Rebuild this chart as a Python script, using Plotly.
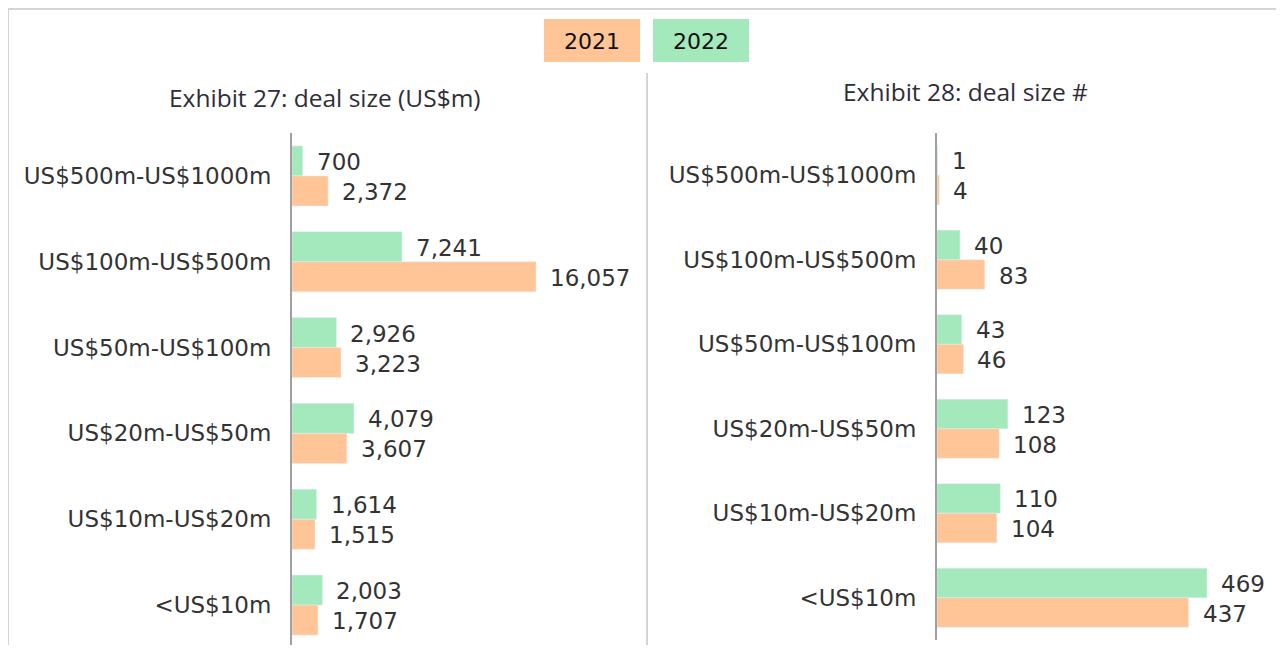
import plotly.graph_objects as go

categories = ["US$500m-US$1000m", "US$100m-US$500m", "US$50m-US$100m",
              "US$20m-US$50m", "US$10m-US$20m", "<US$10m"]
value_2021 = [2372, 16057, 3223, 3607, 1515, 1707]
value_2022 = [700, 7241, 2926, 4079, 1614, 2003]
count_2021 = [4, 83, 46, 108, 104, 437]
count_2022 = [1, 40, 43, 123, 110, 469]
years = ["2021", "2022"]
titles = ["Exhibit 27: deal size (US$m)", "Exhibit 28: deal size #"]

C21 = "#FFC597"
C22 = "#A3E9BC"
TXT = "#333333"
OFF = 8
W, H = 1284 - 2 * OFF, 653 - 2 * OFF


def px_x(p):
    return (p - OFF) / W


def px_y(p):
    return 1 - (p - OFF) / H


fig = go.Figure()

fig.add_trace(go.Bar(y=categories, x=value_2022, orientation="h", marker_color=C22,
                     name="2022", xaxis="x", yaxis="y", showlegend=False, hoverinfo="x"))
fig.add_trace(go.Bar(y=categories, x=value_2021, orientation="h", marker_color=C21,
                     name="2021", xaxis="x", yaxis="y", showlegend=False, hoverinfo="x"))
fig.add_trace(go.Bar(y=categories, x=count_2022, orientation="h", marker_color=C22,
                     name="2022", xaxis="x2", yaxis="y2", showlegend=False, hoverinfo="x"))
fig.add_trace(go.Bar(y=categories, x=count_2021, orientation="h", marker_color=C21,
                     name="2021", xaxis="x2", yaxis="y2", showlegend=False, hoverinfo="x"))

annotations = []
font_val = dict(family="DejaVu Sans, Verdana, sans-serif", size=23, color=TXT)
for xr, yr, v22, v21 in [("x", "y", value_2022, value_2021), ("x2", "y2", count_2022, count_2021)]:
    for cat, a, b in zip(categories, v22, v21):
        annotations.append(dict(x=a, y=cat, xref=xr, yref=yr, text=f"{a:,}", showarrow=False,
                                xanchor="left", yanchor="middle", xshift=12, yshift=14, font=font_val))
        annotations.append(dict(x=b, y=cat, xref=xr, yref=yr, text=f"{b:,}", showarrow=False,
                                xanchor="left", yanchor="middle", xshift=12, yshift=-16, font=font_val))

font_title = dict(family="Open Sans, Noto Sans, sans-serif", size=24.5, color="#2E2E38")
annotations.append(dict(x=px_x(325), y=px_y(97), xref="paper", yref="paper", text=titles[0],
                        showarrow=False, xanchor="center", yanchor="middle", font=font_title))
annotations.append(dict(x=px_x(965), y=px_y(92), xref="paper", yref="paper", text=titles[1],
                        showarrow=False, xanchor="center", yanchor="middle", font=font_title))

# legend boxes
shapes = []
legend_boxes = [(544, 640, C21, years[0]), (653, 749, C22, years[1])]
for x0, x1, col, label in legend_boxes:
    shapes.append(dict(type="rect", xref="paper", yref="paper", x0=px_x(x0), x1=px_x(x1),
                       y0=px_y(62), y1=px_y(19), fillcolor=col, line=dict(width=0), layer="below"))
    annotations.append(dict(x=px_x((x0 + x1) / 2), y=px_y(41), xref="paper", yref="paper", text=label,
                            showarrow=False, xanchor="center", yanchor="middle",
                            font=dict(family="DejaVu Sans, Verdana, sans-serif", size=22, color="#111111")))

# frame lines
FRAME = "#D3D3D8"
shapes.append(dict(type="line", xref="paper", yref="paper", x0=px_x(7), x1=1, y0=px_y(9), y1=px_y(9),
                   line=dict(color=FRAME, width=2)))
shapes.append(dict(type="line", xref="paper", yref="paper", x0=px_x(8), x1=px_x(8), y0=px_y(9), y1=0,
                   line=dict(color=FRAME, width=2)))
shapes.append(dict(type="line", xref="paper", yref="paper", x0=px_x(647), x1=px_x(647), y0=px_y(73), y1=0,
                   line=dict(color=FRAME, width=2)))

tick_font = dict(family="DejaVu Sans, Verdana, sans-serif", size=23, color=TXT)
AX = "#A0A0A0"

left_scale = 244 / 16057
right_scale = 270 / 469

# left panel: categories spaced 85.83px, axis from 133 down to the bottom of the figure
left_step = (648 - 133) / 6
left_bottom = OFF + H
left_span = (left_bottom - 133) / left_step

fig.update_layout(
    width=W, height=H,
    margin=dict(l=0, r=0, t=0, b=0),
    paper_bgcolor="white", plot_bgcolor="white",
    barmode="group", bargap=0.3, bargroupgap=0,
    xaxis=dict(domain=[px_x(292), px_x(625)], range=[0, 333 / left_scale],
               showgrid=False, zeroline=False, showticklabels=False, showline=False),
    yaxis=dict(domain=[0, px_y(133)], type="category", range=[-0.5 + left_span, -0.5],
               showgrid=False, zeroline=False, showline=True, linecolor=AX, linewidth=2,
               ticks="", ticklabelstandoff=14, tickfont=tick_font, anchor="x"),
    xaxis2=dict(domain=[px_x(937), 1.0], range=[0, (1284 - OFF - 937) / right_scale],
                showgrid=False, zeroline=False, showticklabels=False, showline=False, anchor="y2"),
    yaxis2=dict(domain=[px_y(640), px_y(133)], type="category", autorange="reversed",
                showgrid=False, zeroline=False, showline=True, linecolor=AX, linewidth=2,
                ticks="", ticklabelstandoff=14, tickfont=tick_font, anchor="x2"),
    annotations=annotations,
    shapes=shapes,
)

fig.write_html("out.html")
